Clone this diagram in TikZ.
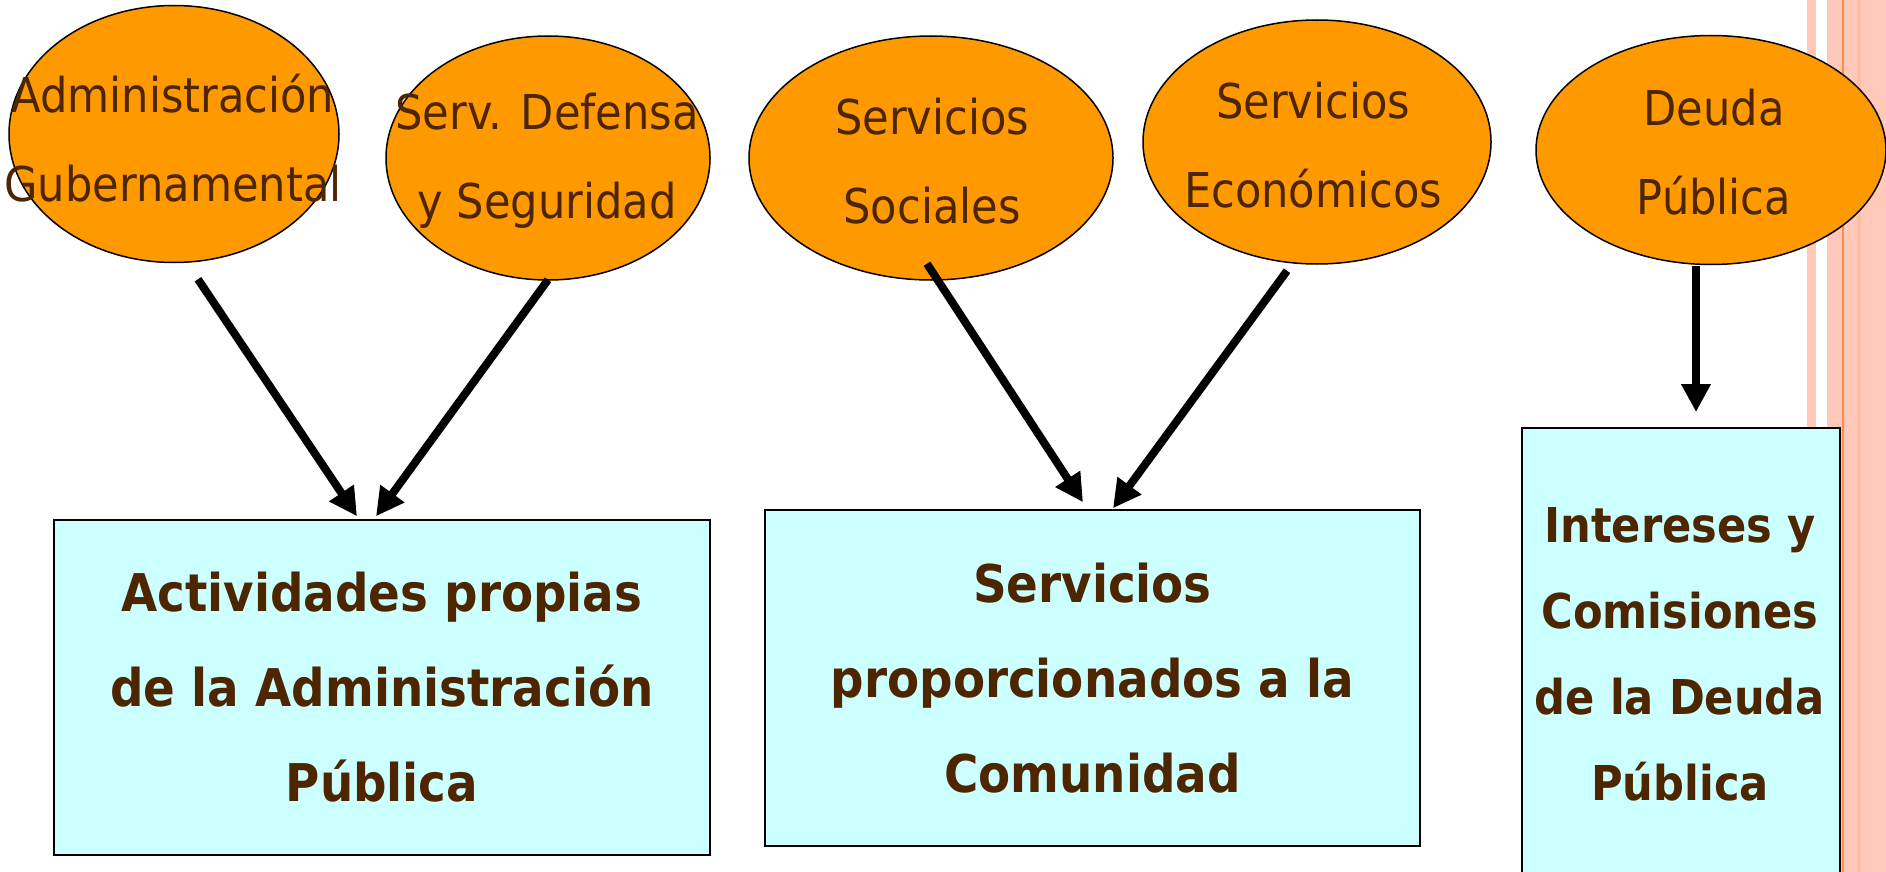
\documentclass[tikz,border=0pt]{standalone}
\usepackage{fontspec}
\setmainfont{DejaVu Sans Condensed}
\usetikzlibrary{arrows.meta,shapes.geometric,calc}
\definecolor{ellfill}{HTML}{FF9900}
\definecolor{boxfill}{HTML}{CCFFFF}
\definecolor{txt}{HTML}{4D2600}
\definecolor{stripepink}{HTML}{FFC8B8}
\definecolor{stripedark}{HTML}{FFBBA5}
\definecolor{stripeline}{HTML}{FF8C45}
\tikzset{
  ell/.style={ellipse, draw=black, line width=1.5pt, fill=ellfill, inner sep=0pt},
  etext/.style={text=txt, align=center, inner sep=0pt, font=\fontsize{48}{89}\selectfont},
  bx/.style={rectangle, draw=black, line width=1.5pt, fill=boxfill, inner sep=0pt, align=center, text=txt, font=\fontsize{52}{95}\selectfont\bfseries},
  btext/.style={text=txt, align=center, inner sep=0pt, font=\fontsize{48}{86}\selectfont\bfseries},
  arr/.style={line width=8pt, -{Triangle[length=28pt,width=28pt]}}
}
\begin{document}
\begin{tikzpicture}[x=1pt,y=-1pt]
\clip (0,0) rectangle (1886,872);
\fill[white] (0,0) rectangle (1886,872);
% decorative stripes at the right edge
\fill[stripepink] (1807,0) rectangle (1816,872);
\fill[stripepink] (1827,0) rectangle (1886,872);
\fill[stripedark] (1857,0) rectangle (1861,872);
\fill[stripeline] (1842,0) rectangle (1843.5,872);
% ellipses
\node[ell, minimum width=330pt, minimum height=257pt] (e1) at (174,134) {};
\node[ell, minimum width=324pt, minimum height=244pt] (e2) at (548,158) {};
\node[ell, minimum width=364pt, minimum height=244pt] (e3) at (931,158) {};
\node[ell, minimum width=348pt, minimum height=244pt] (e4) at (1317,142) {};
\node[ell, minimum width=350pt, minimum height=229pt] (e5) at (1711,150) {};
\node[etext] (t1) at ($(e1.center)+(-1,4)$) {Administración\\Gubernamental};
\node[etext] (t2) at ($(e2.center)+(-1,3)$) {Serv. Defensa\\y Seguridad};
\node[etext] (t3) at ($(e3.center)+(1,3)$) {Servicios\\Sociales};
\node[etext] (t4) at ($(e4.center)+(-4,3)$) {Servicios\\Económicos};
\node[etext] (t5) at ($(e5.center)+(3,2)$) {Deuda\\Pública};
% boxes
\node[bx, minimum width=656pt, minimum height=335pt] (b1) at (382,687.5) {Actividades propias\\de la Administración\\Pública};
\node[bx, minimum width=655pt, minimum height=336pt] (b2) at (1092.5,678) {Servicios\\proporcionados a la\\Comunidad};
\node[bx, minimum width=318pt, minimum height=500pt, anchor=north] (b3) at (1681,427) {};
\node[btext] (t8) at (1680,654) {Intereses y\\Comisiones\\de la Deuda\\Pública};
% arrows
\draw[arr] ($(e1.south)+(24,16)$) -- ($(b1.north)+(-25,-3)$);
\draw[arr] ($(e2.south)+(0,-1)$) -- ($(b1.north)+(-6,-3)$);
\draw[arr] ($(e3.south)+(-4,-17)$) -- ($(b2.north)+(-9.5,-7)$);
\draw[arr] ($(e4.south)+(-30,6)$) -- ($(b2.north)+(20.5,-1)$);
\draw[arr] ($(e5.south)+(-15,1)$) -- ($(b3.north)+(15,-15)$);
\end{tikzpicture}
\end{document}
